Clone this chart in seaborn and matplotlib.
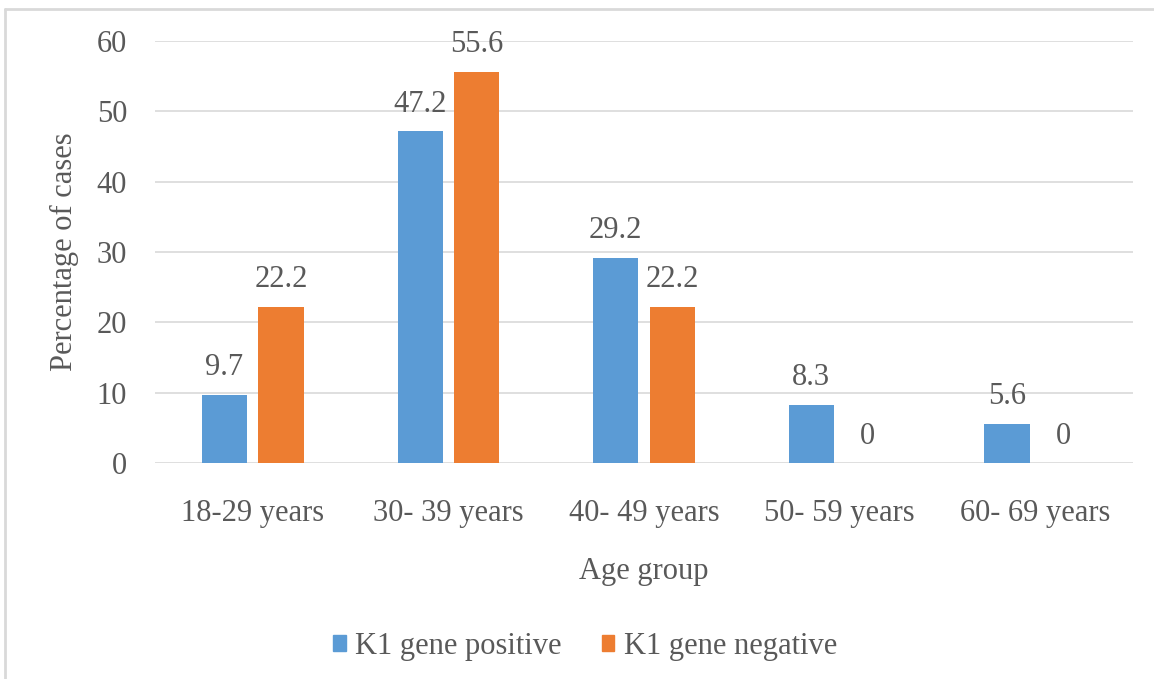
import matplotlib
matplotlib.use("Agg")
import matplotlib.pyplot as plt
import matplotlib.patches as mpatches
import seaborn as sns
import pandas as pd

age_groups = ["18-29 years", "30- 39 years", "40- 49 years", "50- 59 years", "60- 69 years"]
k1_positive = [9.7, 47.2, 29.2, 8.3, 5.6]
k1_negative = [22.2, 55.6, 22.2, 0, 0]
series_names = ["K1 gene positive", "K1 gene negative"]
y_ticks = [0, 10, 20, 30, 40, 50, 60]

colors = ["#5B9BD5", "#ED7D31"]
text_color = "#595959"
grid_color = "#D9D9D9"
fs = 22

df = pd.DataFrame({
    "Age group": age_groups * 2,
    "Percentage": k1_positive + k1_negative,
    "Series": [series_names[0]] * len(age_groups) + [series_names[1]] * len(age_groups),
})

sns.set_theme(style="white")
plt.rcParams["font.family"] = ["Liberation Serif", "DejaVu Serif"]

fig = plt.figure(figsize=(11.54, 6.79), dpi=100)
ax = fig.add_axes([0.1343, 0.3181, 0.9818 - 0.1343, 0.9396 - 0.3181])

sns.barplot(data=df, x="Age group", y="Percentage", hue="Series",
            palette=colors, width=0.578, gap=0.2, ax=ax, legend=False,
            saturation=1, linewidth=0)

for cont in ax.containers:
    ax.bar_label(cont, labels=[f"{v:g}" for v in cont.datavalues],
                 padding=9, fontsize=fs, color=text_color)

ax.set_ylim(0, 60)
ax.set_xlim(-0.5, len(age_groups) - 0.5)
ax.set_yticks(y_ticks)
ax.set_yticklabels([str(t) for t in y_ticks], fontsize=fs, color=text_color)
ax.tick_params(axis="y", length=0, pad=20)
ax.tick_params(axis="x", length=0, pad=26, labelsize=fs, labelcolor=text_color)
ax.yaxis.grid(True, color=grid_color, linewidth=1.2)
ax.set_axisbelow(True)
for s in ax.spines.values():
    s.set_visible(False)

ax.set_ylabel("Percentage of cases", fontsize=fs, color=text_color, labelpad=13)
ax.set_xlabel("Age group", fontsize=fs, color=text_color, labelpad=21)

handles = [mpatches.Patch(color=c, label=n) for c, n in zip(colors, series_names)]
fig.legend(handles=handles, loc="center", bbox_to_anchor=(0.507, 0.048), ncol=2,
           frameon=False, fontsize=fs, labelcolor=text_color,
           handlelength=0.42, handleheight=0.42, handletextpad=0.3, columnspacing=1.3)

# light frame along the top and left edges
fig.add_artist(plt.Line2D([5 / 1154, 1.0], [1 - 8.5 / 679, 1 - 8.5 / 679],
                          transform=fig.transFigure, color="#D9D9D9", linewidth=2))
fig.add_artist(plt.Line2D([5 / 1154, 5 / 1154], [0, 1 - 8.5 / 679],
                          transform=fig.transFigure, color="#D9D9D9", linewidth=2))

fig.savefig("out.png", dpi=100, facecolor="white")
